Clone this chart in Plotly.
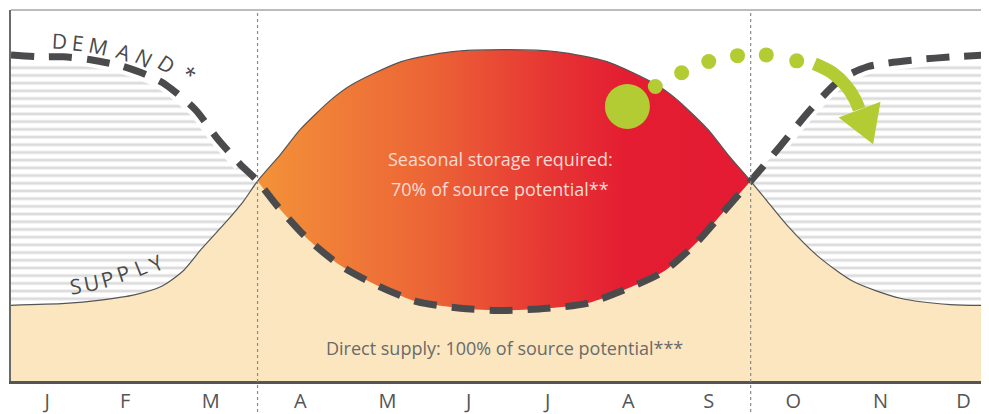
import plotly.graph_objects as go

# ---------------- data (x in month units, y in % of chart height) ----------------
months = ["J", "F", "M", "A", "M", "J", "J", "A", "S", "O", "N", "D"]
month_pos = [0.44, 1.39, 2.43, 3.52, 4.58, 5.57, 6.53, 7.51, 8.49, 9.52, 10.58, 11.59]
season_bounds = [3.0, 9.0]

demand_x = [0.0, 0.36, 0.64, 0.97, 1.33, 1.64, 1.88, 2.24, 2.52, 2.79, 3.0,
            3.24, 3.61, 4.01, 4.46, 4.94, 5.47, 5.99, 6.53, 7.01, 7.50, 7.94, 8.35, 8.67, 9.0,
            9.36, 9.73, 10.09, 10.42, 11.03, 11.47, 11.9]
demand_y = [87.9, 87.4, 87.4, 86.6, 85.0, 82.6, 79.9, 73.2, 65.1, 58.4, 53.9,
            47.2, 38.3, 31.1, 25.7, 21.4, 19.6, 19.0, 19.6, 20.9, 24.9, 29.5, 37.5, 45.6, 53.9,
            63.3, 73.2, 81.2, 84.7, 86.6, 87.4, 87.9]

supply_x = [0.0, 0.66, 1.09, 1.50, 1.84, 2.10, 2.31, 2.63, 2.83, 3.0,
            3.28, 3.52, 3.90, 4.15, 4.75, 5.35, 6.0, 6.65, 7.25, 7.85, 8.10, 8.48, 8.72, 9.0,
            9.20, 9.45, 9.81, 10.25, 10.82, 11.43, 11.9]
supply_y = [20.4, 20.9, 21.8, 23.2, 25.6, 29.8, 35.4, 43.2, 48.5, 53.9,
            61.1, 67.8, 75.9, 79.9, 86.1, 88.7, 89.3, 88.7, 86.1, 79.9, 75.9, 67.8, 61.1, 53.9,
            48.5, 41.8, 33.8, 26.8, 22.3, 20.6, 20.4]

dots_x = [7.84, 8.16, 8.49, 8.84, 9.19, 9.56]
dots_y = [79.4, 83.1, 86.1, 87.7, 87.9, 86.3]
big_dot_x = [7.50]
big_dot_y = [74.0]
arrow_x = [9.775, 9.99, 10.16, 10.27, 10.32]
arrow_y = [85.5, 83.1, 79.6, 75.9, 73.2]
head_x = [10.07, 10.58, 10.49, 10.07]
head_y = [71.0, 75.3, 63.8, 71.0]

demand_word = list("DEMAND*")
demand_word_x = [0.59, 0.82, 1.06, 1.37, 1.62, 1.89, 2.16]
demand_word_y = [91.7, 91.2, 90.3, 88.7, 87.1, 85.5, 82.8]
demand_word_rot = [3, 6, 12, 20, 28, 34, 38]
supply_word = list("SUPPLY")
supply_word_x = [0.785, 0.98, 1.17, 1.37, 1.58, 1.77]
supply_word_y = [25.5, 26.3, 27.6, 29.0, 30.6, 31.9]
supply_word_rot = [-8, -11, -15, -18, -22, -27]

# ---------------- styles ----------------
BEIGE = "#FBE6BF"
GREEN = "#B4CC33"
DARK = "#4B4B4D"
FONT = "Open Sans"
SPL = dict(shape="spline", smoothing=0.7)


def seg(xs, ys, lo, hi):
    px, py = [], []
    for a, b in zip(xs, ys):
        if lo - 1e-9 <= a <= hi + 1e-9:
            px.append(a)
            py.append(b)
    return px, py


lo, hi = season_bounds
fig = go.Figure()

# beige direct supply
fig.add_trace(go.Scatter(x=supply_x, y=supply_y, mode="lines", line=dict(width=0, **SPL),
                         fill="tozeroy", fillcolor=BEIGE, hoverinfo="skip", showlegend=False))

# striped areas (deficit) left and right
pattern = dict(shape="-", size=7.7, solidity=0.36, fgcolor="#DCDCDC", bgcolor="white", fillmode="replace")
for a, b in [(0, lo), (hi, 12)]:
    sx, sy = seg(supply_x, supply_y, a, b)
    dx, dy = seg(demand_x, demand_y, a, b)
    fig.add_trace(go.Scatter(x=sx, y=sy, mode="lines", line=dict(width=0, **SPL),
                             hoverinfo="skip", showlegend=False))
    fig.add_trace(go.Scatter(x=dx, y=dy, mode="lines", line=dict(width=0, **SPL),
                             fill="tonexty", fillpattern=pattern, fillcolor="white",
                             hoverinfo="skip", showlegend=False))

# seasonal storage gradient
dx, dy = seg(demand_x, demand_y, lo, hi)
sx, sy = seg(supply_x, supply_y, lo, hi)
fig.add_trace(go.Scatter(x=dx, y=dy, mode="lines", line=dict(width=0, **SPL),
                         hoverinfo="skip", showlegend=False))
fig.add_trace(go.Scatter(x=sx, y=sy, mode="lines", line=dict(width=0, **SPL),
                         fill="tonexty",
                         fillgradient=dict(type="horizontal",
                                           colorscale=[[0, "#F39239"], [0.35, "#EC6436"],
                                                       [0.6, "#E63433"], [0.75, "#E41D32"], [1, "#E41B32"]]),
                         hoverinfo="skip", showlegend=False))

# white halo below demand line over stripes
for a, b in [(0, lo - 0.12), (hi + 0.12, 12)]:
    hx, hy = seg(demand_x, demand_y, a, b)
    fig.add_trace(go.Scatter(x=hx, y=hy, mode="lines",
                             line=dict(width=15, color="white", **SPL),
                             hoverinfo="skip", showlegend=False))

# supply line
fig.add_trace(go.Scatter(x=supply_x, y=supply_y, mode="lines",
                         line=dict(width=1.2, color="#555555", **SPL),
                         hoverinfo="skip", showlegend=False))
# demand line
fig.add_trace(go.Scatter(x=demand_x, y=demand_y, mode="lines",
                         line=dict(width=7, color=DARK, dash="23px,15px", **SPL),
                         hoverinfo="skip", showlegend=False))

# green dots and arrow
fig.add_trace(go.Scatter(x=big_dot_x, y=big_dot_y, mode="markers",
                         marker=dict(size=45, color=GREEN, line=dict(width=0)), hoverinfo="skip", showlegend=False))
fig.add_trace(go.Scatter(x=dots_x, y=dots_y, mode="markers",
                         marker=dict(size=15, color=GREEN, line=dict(width=0)), hoverinfo="skip", showlegend=False))
fig.add_trace(go.Scatter(x=arrow_x, y=arrow_y, mode="lines",
                         line=dict(width=13, color=GREEN, shape="spline"), hoverinfo="skip", showlegend=False))
fig.add_trace(go.Scatter(x=head_x, y=head_y, mode="lines", fill="toself", fillcolor=GREEN,
                         line=dict(width=0, color=GREEN), hoverinfo="skip", showlegend=False))

annotations = []
for ch, x, y, r in zip(demand_word, demand_word_x, demand_word_y, demand_word_rot):
    annotations.append(dict(x=x, y=y, text=ch, showarrow=False, textangle=r,
                            font=dict(family=FONT, size=21, color="#4A4A4A")))
for ch, x, y, r in zip(supply_word, supply_word_x, supply_word_y, supply_word_rot):
    annotations.append(dict(x=x, y=y, text=ch, showarrow=False, textangle=r,
                            font=dict(family=FONT, size=21, color="#4A4A4A")))
annotations += [
    dict(x=5.95, y=59.8, text="Seasonal storage required:", showarrow=False,
         font=dict(family=FONT, size=18, color="#FCDAD2")),
    dict(x=5.95, y=51.8, text="70% of source potential**", showarrow=False,
         font=dict(family=FONT, size=18, color="#FCDAD2")),
    dict(x=6.0, y=8.8, text="Direct supply: 100% of source potential***", showarrow=False,
         font=dict(family=FONT, size=18, color="#6A6A6A")),
]

shapes = [dict(type="line", xref="x", yref="paper", x0=b, x1=b, y0=-0.1, y1=1,
               line=dict(color="#8A8A8A", width=1.2, dash="dot"), layer="above") for b in season_bounds]
shapes.append(dict(type="line", xref="paper", yref="paper", x0=0, x1=1, y0=1, y1=1,
                   line=dict(color="#7A7A7A", width=1.2)))

# the page body adds an 8px margin, so the figure is 8px smaller and margins reduced
fig.update_layout(
    width=981, height=406,
    margin=dict(l=3, r=0, t=2, b=31),
    paper_bgcolor="white", plot_bgcolor="white",
    showlegend=False,
    annotations=annotations,
    shapes=shapes,
    xaxis=dict(range=[0, 11.9], showgrid=False, zeroline=False, showline=True, linecolor="#555555",
               linewidth=2.5, tickmode="array", tickvals=month_pos, ticktext=months, ticks="",
               tickfont=dict(family=FONT, size=20, color="#555555")),
    yaxis=dict(range=[0, 100], showgrid=False, zeroline=False, showline=True, linecolor="#6A6A6A",
               linewidth=1.5, showticklabels=False, ticks=""),
)

fig.write_html("out.html")
